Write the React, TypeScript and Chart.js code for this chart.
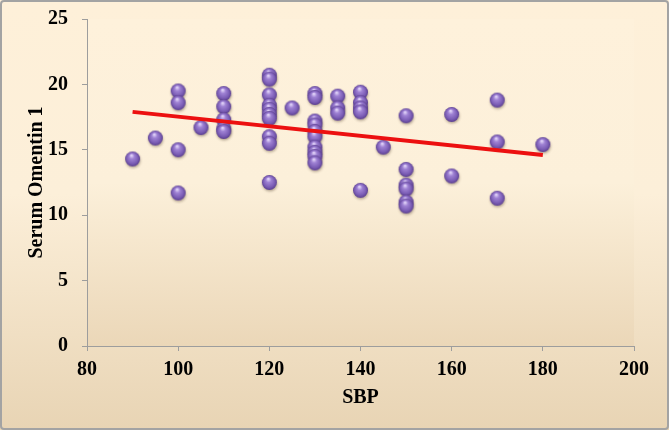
import React, { useEffect, useRef } from "react";
import { Chart, registerables } from "chart.js";

Chart.register(...registerables);

// Systolic blood pressure (x) and Serum Omentin 1 (y)
const sbp: number[] = [
  90, 95,
  100, 100, 100, 100,
  105,
  110, 110, 110, 110, 110,
  120, 120, 120, 120, 120, 120, 120, 120, 120, 120,
  125,
  130, 130, 130, 130, 130, 130, 130, 130, 130, 130,
  135, 135, 135,
  140, 140, 140, 140, 140,
  145,
  150, 150, 150, 150, 150, 150,
  160, 160,
  170, 170, 170,
  180,
];
const omentin: number[] = [
  14.3, 15.9,
  19.5, 18.6, 15.0, 11.7,
  16.7,
  19.3, 18.3, 17.3, 16.6, 16.4,
  20.7, 20.4, 19.2, 18.4, 18.1, 17.7, 17.4, 16.0, 15.5, 12.5,
  18.2,
  19.3, 19.0, 17.2, 16.9, 16.4, 16.0, 15.2, 14.8, 14.5, 14.0,
  19.1, 18.2, 17.8,
  19.4, 18.6, 18.2, 17.9, 11.9,
  15.2,
  17.6, 13.5, 12.3, 12.0, 11.0, 10.7,
  17.7, 13.0,
  18.8, 15.6, 11.3,
  15.4,
];
// Linear trend line end points
const trendX: number[] = [90, 180];
const trendY: number[] = [17.9, 14.6];

const xTicks = { min: 80, max: 200, step: 20 };
const yTicks = { min: 0, max: 25, step: 5 };

const FONT = "'Liberation Serif', 'Times New Roman', serif";
const FSIZE = 20;

function makeSphere(r: number): HTMLCanvasElement {
  const size = Math.ceil(r * 2 + 8);
  const c = document.createElement("canvas");
  c.width = size;
  c.height = size;
  const ctx = c.getContext("2d")!;
  const cx = size / 2;
  const cy = size / 2;
  ctx.save();
  ctx.shadowColor = "rgba(60,40,20,0.35)";
  ctx.shadowBlur = 2.5;
  ctx.shadowOffsetY = 1.5;
  ctx.shadowOffsetX = 0.5;
  const g = ctx.createRadialGradient(cx - r * 0.15, cy - r * 0.5, r * 0.08, cx, cy, r);
  g.addColorStop(0, "#e0d2f8");
  g.addColorStop(0.3, "#9f82d4");
  g.addColorStop(0.75, "#7a5cb4");
  g.addColorStop(1, "#5a3e8f");
  ctx.beginPath();
  ctx.arc(cx, cy, r, 0, Math.PI * 2);
  ctx.fillStyle = g;
  ctx.fill();
  ctx.restore();
  return c;
}

const backgroundPlugin = {
  id: "bgFrame",
  beforeDraw(chart: any) {
    const { ctx, width, height, chartArea } = chart;
    ctx.save();
    const g = ctx.createLinearGradient(0, 0, 0, height);
    g.addColorStop(0, "#fef0d9");
    g.addColorStop(0.45, "#fcefd9");
    g.addColorStop(1, "#e8d4b4");
    ctx.fillStyle = g;
    ctx.fillRect(0, 0, width, height);

    const { left, top, right, bottom } = chartArea;
    const pg = ctx.createLinearGradient(0, top, 0, bottom);
    pg.addColorStop(0, "#fef1db");
    pg.addColorStop(0.5, "#fcf0da");
    pg.addColorStop(1, "#ebd7b8");
    ctx.fillStyle = pg;
    ctx.fillRect(left, top, right - left, bottom - top);

    ctx.strokeStyle = "#a3a3a3";
    ctx.lineWidth = 2;
    ctx.beginPath();
    (ctx as any).roundRect(1, 1, width - 2, height - 2, 3);
    ctx.stroke();
    ctx.restore();
  },
};

export default function App() {
  const ref = useRef<HTMLCanvasElement>(null);

  useEffect(() => {
    document.body.style.margin = "0";
    const sphere = makeSphere(7.5);
    const points = sbp.map((x, i) => ({ x, y: omentin[i] }));
    const trend = trendX.map((x, i) => ({ x, y: trendY[i] }));
    const chart = new Chart(ref.current!, {
      type: "scatter",
      data: {
        datasets: [
          {
            type: "line",
            data: trend,
            borderColor: "#ec1010",
            borderWidth: 4,
            pointRadius: 0,
            fill: false,
            order: 0,
          } as any,
          {
            data: points,
            pointStyle: sphere as any,
            pointRadius: 8,
            order: 1,
          },
        ],
      },
      options: {
        animation: false,
        responsive: false,
        devicePixelRatio: 1,
        layout: { padding: { top: 19, right: 35, bottom: 0, left: 0 } },
        plugins: { legend: { display: false }, tooltip: { enabled: false } },
        scales: {
          x: {
            type: "linear",
            min: xTicks.min,
            max: xTicks.max,
            afterFit(scale: any) {
              scale.height = 84;
              scale.paddingLeft = 0;
              scale.paddingRight = 0;
            },
            ticks: {
              stepSize: xTicks.step,
              color: "#000",
              padding: 7,
              font: { family: FONT, size: FSIZE, weight: "bold" },
            },
            grid: {
              drawOnChartArea: false,
              drawTicks: true,
              tickLength: 5,
              color: "#9d9d9d",
            },
            border: { display: true, color: "#9d9d9d", width: 1 },
            title: {
              display: true,
              text: "SBP",
              color: "#000",
              padding: { top: 0, bottom: 20 },
              font: { family: FONT, size: FSIZE, weight: "bold" },
            },
          },
          y: {
            type: "linear",
            min: yTicks.min,
            max: yTicks.max,
            afterFit(scale: any) {
              scale.width = 87;
              scale.paddingTop = 0;
              scale.paddingBottom = 0;
            },
            ticks: {
              stepSize: yTicks.step,
              color: "#000",
              padding: 14,
              font: { family: FONT, size: FSIZE, weight: "bold" },
            },
            grid: {
              drawOnChartArea: false,
              drawTicks: true,
              tickLength: 5,
              color: "#9d9d9d",
            },
            border: { display: true, color: "#9d9d9d", width: 1 },
            title: {
              display: true,
              text: "Serum Omentin 1",
              color: "#000",
              padding: { top: 25, bottom: 0 },
              font: { family: FONT, size: FSIZE, weight: "bold" },
            },
          },
        },
      },
      plugins: [backgroundPlugin],
    });
    return () => chart.destroy();
  }, []);

  return (
    <div style={{ width: 669, height: 430 }}>
      <canvas ref={ref} width={669} height={430} />
    </div>
  );
}
